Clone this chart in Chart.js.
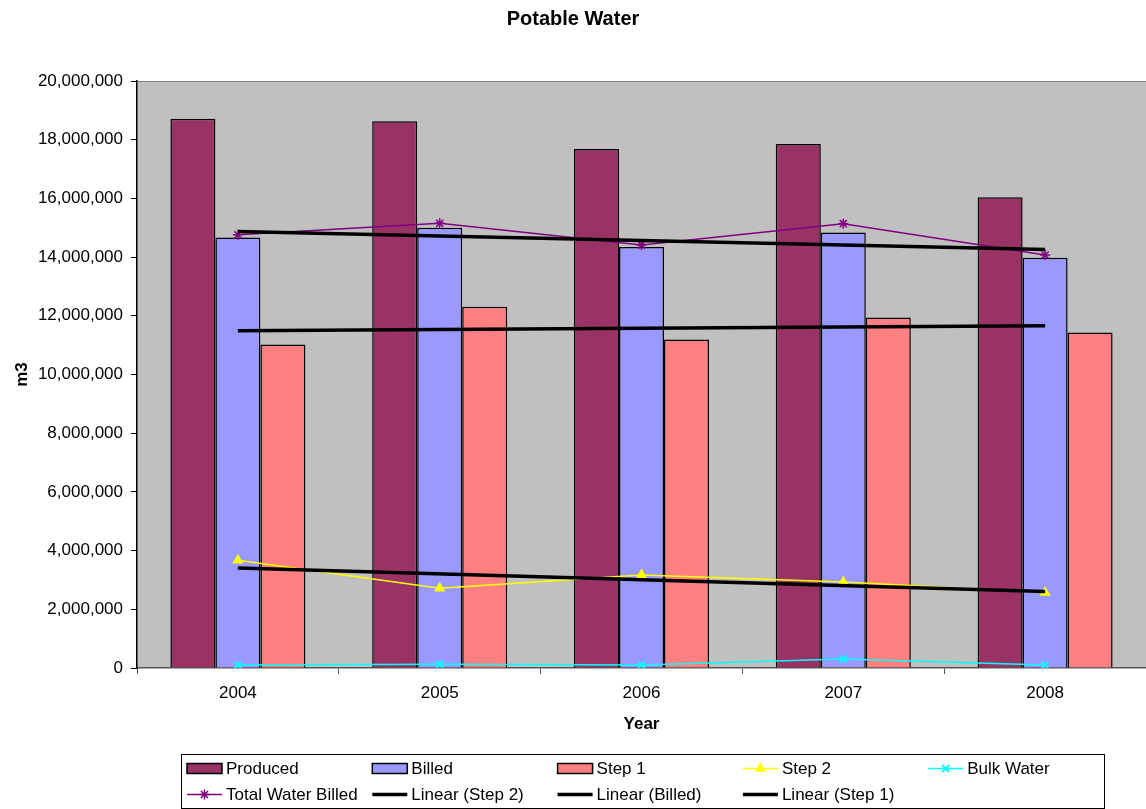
<!DOCTYPE html>
<html>
<head>
<meta charset="utf-8">
<title>Potable Water</title>
<script src="https://cdn.jsdelivr.net/npm/chart.js@4/dist/chart.umd.min.js"></script>
<style>
  html, body { margin: 0; padding: 0; background: #ffffff; }
  #wrap { width: 1146px; height: 809px; }
</style>
</head>
<body>
<div id="wrap"><canvas id="chart" width="1146" height="809"></canvas></div>
<script>
// Annual volumes in cubic metres
const years = ['2004', '2005', '2006', '2007', '2008'];
const produced = [18710000, 18630000, 17680000, 17850000, 16040000];
const billed = [14670000, 15000000, 14340000, 14840000, 13980000];
const step1 = [11020000, 12310000, 11190000, 11940000, 11430000];
const step2 = [3670000, 2720000, 3170000, 2930000, 2570000];
const bulkWater = [100000, 130000, 100000, 310000, 100000];
const totalBilled = [14760000, 15150000, 14410000, 15140000, 14070000];

// Linear trend lines: start and end values, gaps spanned in between
const trendStep2 = [3410000, null, null, null, 2610000];
const trendBilled = [14870000, null, null, null, 14260000];
const trendStep1 = [11490000, null, null, null, 11660000];

// Y axis range
const yMin = 0;
const yMax = 20000000;
const yStep = 2000000;

const FONT = "'Liberation Sans', Arial, Helvetica, sans-serif";

function barSet(label, data, color) {
  return {
    type: 'bar', label, data,
    backgroundColor: color, borderColor: '#000000', borderWidth: 1.5,
    order: 2
  };
}
function lineSet(label, data, color, pointStyle, opts) {
  return Object.assign({
    type: 'line', label, data,
    borderColor: color, backgroundColor: color, borderWidth: 1.5,
    pointStyle, pointRadius: 5, pointBorderWidth: 1.5,
    pointBackgroundColor: color, pointBorderColor: color,
    tension: 0, fill: false, order: 1
  }, opts || {});
}
function trendSet(label, data) {
  return {
    type: 'line', label, data,
    borderColor: '#000000', backgroundColor: '#000000', borderWidth: 3.5,
    pointRadius: 0, spanGaps: true, tension: 0, fill: false, order: 0,
    legendKind: 'trend'
  };
}

// Gray plot background and its top border
const plotBackground = {
  id: 'plotBackground',
  beforeDraw(chart) {
    const { ctx, chartArea: a } = chart;
    ctx.save();
    ctx.fillStyle = '#C0C0C0';
    ctx.fillRect(a.left, a.top, a.right - a.left, a.bottom - a.top);
    ctx.strokeStyle = '#808080';
    ctx.lineWidth = 1;
    ctx.beginPath();
    ctx.moveTo(a.left, a.top + 0.5);
    ctx.lineTo(a.right, a.top + 0.5);
    ctx.stroke();
    ctx.restore();
  }
};

// Boxed legend laid out in fixed columns
const gridLegend = {
  id: 'gridLegend',
  afterDraw(chart, args, opts) {
    const { ctx } = chart;
    ctx.save();
    ctx.strokeStyle = '#000000';
    ctx.lineWidth = 1;
    ctx.strokeRect(opts.left + 0.5, opts.top + 0.5, opts.right - opts.left, opts.bottom - opts.top);
    ctx.font = opts.fontSize + 'px ' + FONT;
    ctx.textBaseline = 'middle';
    ctx.textAlign = 'left';
    chart.data.datasets.forEach((ds, i) => {
      const col = i % opts.cols;
      const row = Math.floor(i / opts.cols);
      const x0 = opts.colStart + col * opts.colStep;
      const y = opts.rowY[row];
      const w = opts.swatchWidth;
      if (ds.type === 'bar') {
        ctx.fillStyle = ds.backgroundColor;
        ctx.fillRect(x0, y - 5, w, 10);
        ctx.lineWidth = 1.5;
        ctx.strokeStyle = '#000000';
        ctx.strokeRect(x0, y - 5, w, 10);
      } else {
        ctx.strokeStyle = ds.borderColor;
        ctx.lineWidth = ds.legendKind === 'trend' ? 3.5 : 1.5;
        ctx.beginPath();
        ctx.moveTo(x0, y);
        ctx.lineTo(x0 + w, y);
        ctx.stroke();
        if (ds.pointRadius > 0) {
          ctx.fillStyle = ds.pointBackgroundColor;
          ctx.strokeStyle = ds.pointBorderColor;
          ctx.lineWidth = ds.pointBorderWidth;
          Chart.helpers.drawPoint(ctx, {
            pointStyle: ds.pointStyle, radius: ds.pointRadius, rotation: 0,
            borderWidth: ds.pointBorderWidth
          }, x0 + w / 2, y);
        }
      }
      ctx.fillStyle = '#000000';
      ctx.fillText(ds.label, x0 + w + 4, y + 1);
    });
    ctx.restore();
  }
};

new Chart(document.getElementById('chart'), {
  data: {
    labels: years,
    datasets: [
      barSet('Produced', produced, '#993366'),
      barSet('Billed', billed, '#9999FF'),
      barSet('Step 1', step1, '#FF8080'),
      lineSet('Step 2', step2, '#FFFF00', 'triangle'),
      lineSet('Bulk Water', bulkWater, '#00FFFF', 'crossRot', { pointBorderWidth: 2 }),
      lineSet('Total Water Billed', totalBilled, '#800080', 'star'),
      trendSet('Linear (Step 2)', trendStep2),
      trendSet('Linear (Billed)', trendBilled),
      trendSet('Linear (Step 1)', trendStep1)
    ]
  },
  plugins: [plotBackground, gridLegend],
  options: {
    responsive: false,
    devicePixelRatio: 1,
    animation: false,
    layout: { autoPadding: false, padding: { left: 0, right: 0, top: 0, bottom: 70 } },
    datasets: {
      bar: { categoryPercentage: 0.669, barPercentage: 1.0 }
    },
    plugins: {
      legend: { display: false },
      tooltip: { enabled: false },
      title: {
        display: true,
        text: 'Potable Water',
        color: '#000000',
        font: { family: FONT, size: 20, weight: 'bold', lineHeight: 1.2 },
        padding: { top: 7, bottom: 50 }
      },
      gridLegend: {
        left: 181, top: 754, right: 1104, bottom: 808,
        cols: 5, colStart: 187, colStep: 185.3,
        rowY: [768.5, 794.5], swatchWidth: 35, fontSize: 17
      }
    },
    scales: {
      x: {
        type: 'category',
        offset: true,
        afterFit(scale) {
          scale.height = 71;
          scale.paddingLeft = 0;
          scale.paddingRight = 0;
        },
        grid: {
          offset: true, drawOnChartArea: false, drawTicks: true,
          tickLength: 6, color: '#555555', lineWidth: 1
        },
        border: { display: true, color: '#555555', width: 1.5 },
        ticks: {
          color: '#000000', padding: 9, maxRotation: 0,
          font: { family: FONT, size: 17 }
        },
        title: {
          display: true, text: 'Year', color: '#000000',
          font: { family: FONT, size: 17, weight: 'bold', lineHeight: 1.2 },
          padding: { top: 4, bottom: 4 }
        }
      },
      y: {
        min: yMin, max: yMax,
        afterFit(scale) { scale.width = 137; },
        grid: {
          drawOnChartArea: false, drawTicks: true,
          tickLength: 6, color: '#000000', lineWidth: 1
        },
        border: { display: true, color: '#000000', width: 1.5 },
        ticks: {
          stepSize: yStep, color: '#000000', padding: 8,
          font: { family: FONT, size: 17 },
          callback: v => Number(v).toLocaleString('en-US')
        },
        title: {
          display: true, text: 'm3', color: '#000000',
          font: { family: FONT, size: 17, weight: 'bold', lineHeight: 1.2 },
          padding: { top: 12, bottom: 4 }
        }
      }
    }
  }
});
</script>
</body>
</html>
